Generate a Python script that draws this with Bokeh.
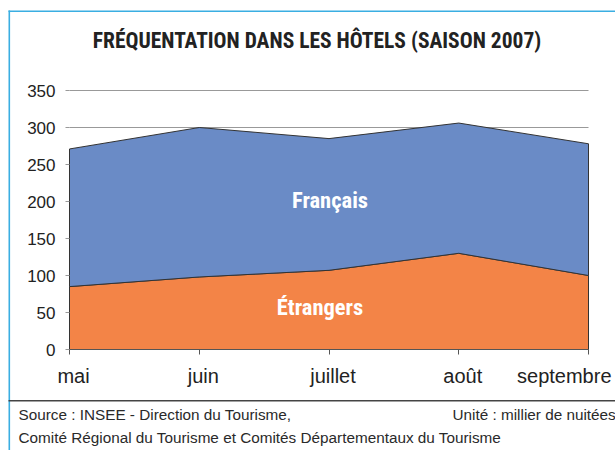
from bokeh.plotting import figure
from bokeh.models import Label, BoxAnnotation, Range1d, FixedTicker, LinearAxis
from bokeh.embed import file_html
from bokeh.resources import INLINE

# ---------------- data ----------------
months = ["mai", "juin", "juillet", "août", "septembre"]
etrangers = [85, 98, 107, 130, 100]
francais = [186, 202, 178, 176, 178]
y_ticks = [0, 50, 100, 150, 200, 250, 300, 350]
series_names = ["Étrangers", "Français"]
title_text = "FRÉQUENTATION  DANS LES HÔTELS (SAISON 2007)"
source_lines = ["Source : INSEE - Direction du Tourisme,",
                "Comité Régional du Tourisme et Comités Départementaux du Tourisme"]
unit_text = "Unité : millier de nuitées"

# ---------------- geometry (canvas px) ----------------
W, H = 615, 450
PX_LEFT, PX_RIGHT = 69, 588      # where first / last category sit
PX_TOP, PX_BOTTOM = 90, 349      # where y max / y = 0 sit
n = len(months)
ppx = (PX_RIGHT - PX_LEFT) / (n - 1)
ppy = (PX_BOTTOM - PX_TOP) / y_ticks[-1]

BLUE = "#6a8bc6"
ORANGE = "#f38447"
COND = "Roboto Condensed"
SANS = "Liberation Sans"
TXT = "#222222"

p = figure(width=W, height=H, output_backend="svg", toolbar_location=None,
           x_axis_type=None, y_axis_type=None,
           x_range=Range1d(-PX_LEFT / ppx, (n - 1) + (W - PX_RIGHT) / ppx),
           y_range=Range1d(-(H - PX_BOTTOM) / ppy, y_ticks[-1] + PX_TOP / ppy),
           min_border=0)
p.outline_line_color = None
p.background_fill_color = "white"
p.border_fill_color = "white"
p.xgrid.visible = False
p.ygrid.visible = False

x = list(range(n))
total = [e + f for e, f in zip(etrangers, francais)]
zeros = [0] * n

# horizontal grid lines over the category span
p.segment(x0=[x[0]] * len(y_ticks), x1=[x[-1]] * len(y_ticks), y0=y_ticks, y1=y_ticks,
          line_color="#999999", line_width=1)

# stacked areas
p.patch(x + x[::-1], etrangers + zeros[::-1], fill_color=ORANGE,
        line_color="#333333", line_width=1)
p.patch(x + x[::-1], total + etrangers[::-1], fill_color=BLUE,
        line_color="#333333", line_width=1)

# axes
xaxis = LinearAxis(fixed_location=0, bounds=(x[0], x[-1]), ticker=FixedTicker(ticks=x))
xaxis.major_label_text_color = None
xaxis.axis_line_color = "#555555"
xaxis.major_tick_line_color = "#555555"
xaxis.major_tick_out = 5
xaxis.major_tick_in = 0
xaxis.minor_tick_line_color = None
p.add_layout(xaxis, "below")

yaxis = LinearAxis(fixed_location=0, bounds=(y_ticks[0], y_ticks[-1]),
                   ticker=FixedTicker(ticks=y_ticks))
yaxis.axis_line_color = None
yaxis.major_tick_line_color = "#999999"
yaxis.major_tick_out = 4
yaxis.major_tick_in = 0
yaxis.minor_tick_line_color = None
yaxis.major_label_standoff = 10
yaxis.major_label_text_font = SANS
yaxis.major_label_text_font_size = "17px"
yaxis.major_label_text_color = TXT
p.add_layout(yaxis, "left")

# category labels under the axis
for i, m in enumerate(months):
    last = i == n - 1
    p.add_layout(Label(x=x[i], y=0, y_offset=-26, text=m,
                       text_align="right" if last else "center",
                       x_offset=23 if last else 4,
                       text_baseline="alphabetic", text_font=SANS,
                       text_font_size="20px", text_color=TXT))

# series labels inside areas
mid = 2
p.add_layout(Label(x=x[mid], y=(etrangers[mid] + total[mid]) / 2, x_offset=1, y_offset=4,
                   text=series_names[1], text_align="center", text_baseline="middle",
                   text_font=COND, text_font_style="bold", text_font_size="22.5px",
                   text_color="white"))
p.add_layout(Label(x=x[mid], y=etrangers[mid] / 2, x_offset=-9, y_offset=3,
                   text=series_names[0], text_align="center", text_baseline="middle",
                   text_font=COND, text_font_style="bold", text_font_size="22.5px",
                   text_color="white"))


def sy(cy):
    """canvas y (top-down) -> screen units (bottom-up)"""
    return H - cy


# title
p.add_layout(Label(x=319, y=sy(40), x_units="screen", y_units="screen",
                   text=title_text, text_align="center", text_baseline="alphabetic",
                   text_font=COND, text_font_style="bold", text_font_size="21.5px",
                   text_color=TXT))

# footer
for txt, cx, cy in [(source_lines[0], 18, 414), (source_lines[1], 18, 437), (unit_text, 452, 414)]:
    p.add_layout(Label(x=cx, y=sy(cy), x_units="screen", y_units="screen",
                       text=txt, text_baseline="alphabetic",
                       text_font=SANS, text_font_size="15.3px", text_color="#2a2a2a"))


def box(x0, x1, y0, y1, color):
    return BoxAnnotation(left=x0, right=x1, top=sy(y0), bottom=sy(y1),
                         left_units="screen", right_units="screen",
                         top_units="screen", bottom_units="screen",
                         fill_color=color, fill_alpha=1, line_color=None)


p.add_layout(box(8, 9.6, 10, H, "#3aaee2"))
p.add_layout(box(8, W, 10, 11.6, "#3aaee2"))
p.add_layout(box(8, W, 399.5, 401, "#444444"))

open("out.html", "w").write(file_html(p, INLINE))
